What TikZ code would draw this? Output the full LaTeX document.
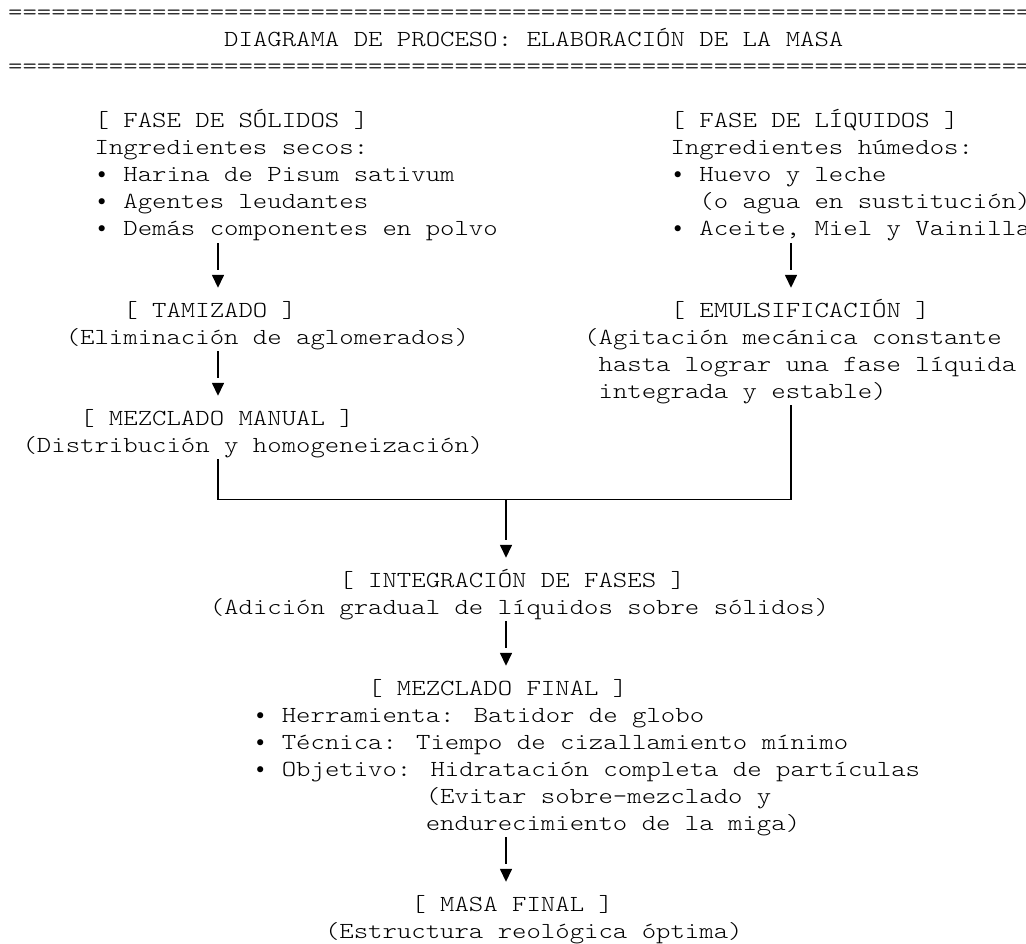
\documentclass[tikz,border=0pt]{standalone}
\usepackage{fontspec}
\usetikzlibrary{arrows.meta}
\newfontfamily\cour{lmmonolt10-regular.otf}[FakeStretch=1.1925]
\newfontfamily\djs{DejaVu Sans}
\newcommand\bul{\makebox[14.4pt][c]{\raisebox{-1pt}{\djs\fontsize{21pt}{21pt}\selectfont •}}}
\begin{document}
\begin{tikzpicture}[x=1pt,y=-1pt,
  txt/.style={anchor=base west, inner sep=0pt, text height=20pt, text depth=7pt,
    font=\cour\fontsize{23pt}{27pt}\selectfont, text=black},
  line/.style={line width=1.5pt, line join=miter},
  stem/.style={line width=1.5pt, shorten >=27pt},
  head/.style={line width=1.5pt, -{Triangle[length=13pt,width=12pt]}}]
\useasboundingbox (0,0) rectangle (1026,944);
\clip (0,0) rectangle (1026,944);
% header
\node[txt] (rule1) at (8,20) {=======================================================================};
\node[txt] (title) at (224,47) {DIAGRAMA DE PROCESO: ELABORACIÓN DE LA MASA};
\node[txt] (rule2) at (8,74) {=======================================================================};
% solids
\node[txt] (sol1) at (94.4,128) {[ FASE DE SÓLIDOS ]};
\node[txt] (sol2) at (94.4,155) {Ingredientes secos:};
\node[txt] (sol3) at (94.4,182) {\bul{} Harina de Pisum sativum};
\node[txt] (sol4) at (94.4,209) {\bul{} Agentes leudantes};
\node[txt] (sol5) at (94.4,236) {\bul{} Demás componentes en polvo};
% liquids
\node[txt] (liq1) at (670.4,128) {[ FASE DE LÍQUIDOS ]};
\node[txt] (liq2) at (670.4,155) {Ingredientes húmedos:};
\node[txt] (liq3) at (670.4,182) {\bul{} Huevo y leche};
\node[txt] (liq4) at (699.2,209) {(o agua en sustitución)};
\node[txt] (liq5) at (670.4,236) {\bul{} Aceite, Miel y Vainilla};
% tamizado / mezclado manual
\node[txt] (tam1) at (123.2,317) {[ TAMIZADO ]};
\node[txt] (tam2) at (65.6,344) {(Eliminación de aglomerados)};
\node[txt] (man1) at (80,425) {[ MEZCLADO MANUAL ]};
\node[txt] (man2) at (22.4,452) {(Distribución y homogeneización)};
% emulsificacion
\node[txt] (emu1) at (670.4,317) {[ EMULSIFICACIÓN ]};
\node[txt] (emu2) at (584,344) {(Agitación mecánica constante};
\node[txt] (emu3) at (598.4,371) {hasta lograr una fase líquida};
\node[txt] (emu4) at (598.4,398) {integrada y estable)};
% integracion
\node[txt] (int1) at (339.2,587) {[ INTEGRACIÓN DE FASES ]};
\node[txt] (int2) at (209.6,614) {(Adición gradual de líquidos sobre sólidos)};
% mezclado final
\node[txt] (fin1) at (368,695) {[ MEZCLADO FINAL ]};
\node[txt] (fin2) at (252.8,722) {\bul{} Herramienta: Batidor de globo};
\node[txt] (fin3) at (252.8,749) {\bul{} Técnica: Tiempo de cizallamiento mínimo};
\node[txt] (fin4) at (252.8,776) {\bul{} Objetivo: Hidratación completa de partículas};
\node[txt] (fin5) at (425.6,803) {(Evitar sobre-mezclado y};
\node[txt] (fin6) at (425.6,830) {endurecimiento de la miga)};
% masa final
\node[txt] (masa1) at (411.2,911) {[ MASA FINAL ]};
\node[txt] (masa2) at (324.8,938) {(Estructura reológica óptima)};
% guide coordinates
\coordinate (xL) at (218,0);
\coordinate (xR) at (791,0);
\coordinate (xC) at (506,0);
\coordinate (bar) at (0,499.5);
% connectors: stem, then separate arrowhead (small gap, as in the text art)
\draw[stem] (sol5.south -| xL) -- (tam1.north -| xL);
\draw[head] ([yshift=22pt]tam1.north -| xL) -- ([yshift=9pt]tam1.north -| xL);
\draw[stem] (liq5.south -| xR) -- (emu1.north -| xR);
\draw[head] ([yshift=22pt]emu1.north -| xR) -- ([yshift=9pt]emu1.north -| xR);
\draw[stem] (tam2.south -| xL) -- (man1.north -| xL);
\draw[head] ([yshift=22pt]man1.north -| xL) -- ([yshift=9pt]man1.north -| xL);
\draw[line] (man2.south -| xL) -- (xL |- bar) -- (xR |- bar) -- (emu4.south -| xR);
\draw[stem] (xC |- bar) -- (int1.north -| xC);
\draw[head] ([yshift=22pt]int1.north -| xC) -- ([yshift=9pt]int1.north -| xC);
\draw[stem] (int2.south -| xC) -- (fin1.north -| xC);
\draw[head] ([yshift=22pt]fin1.north -| xC) -- ([yshift=9pt]fin1.north -| xC);
\draw[stem] (fin6.south -| xC) -- (masa1.north -| xC);
\draw[head] ([yshift=22pt]masa1.north -| xC) -- ([yshift=9pt]masa1.north -| xC);
\end{tikzpicture}
\end{document}
